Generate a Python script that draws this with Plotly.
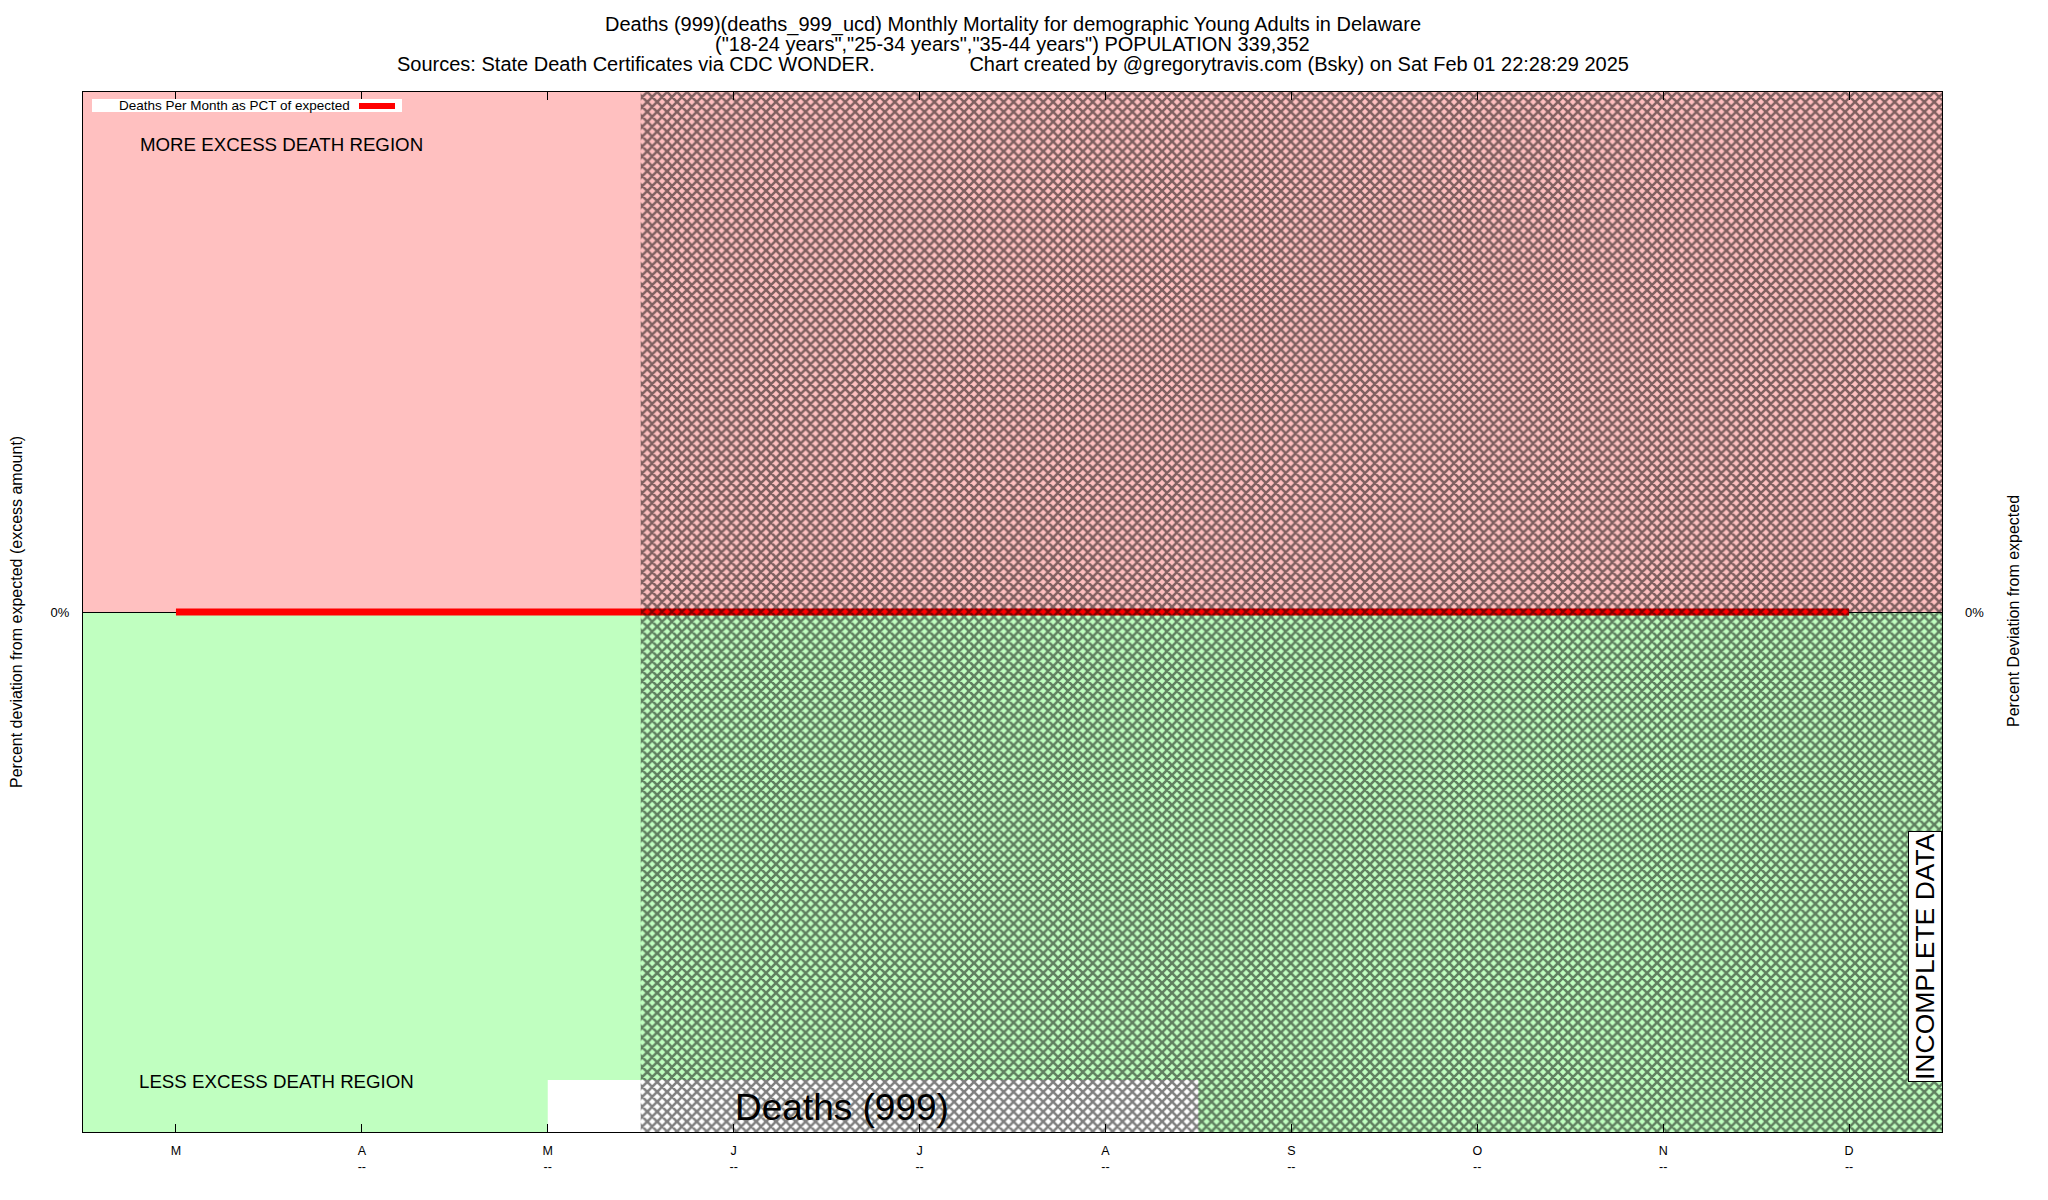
import plotly.graph_objects as go

# ---------------- data ----------------
months = ["M", "A", "M", "J", "J", "A", "S", "O", "N", "D"]
month_sub = ["", "--", "--", "--", "--", "--", "--", "--", "--", "--"]
month_idx = list(range(len(months)))
pct_of_expected = [0, 0, 0, 0, 0, 0, 0, 0, 0, 0]

y_range = [-100, 100]
x_range = [-0.5, 9.5]
incomplete_from = 2.5          # start of hatched (incomplete) region, in month index
label_box_x = [2.0, 5.5]       # bottom label box extent, month index
label_box_top = -90            # bottom label box top, pct

FONT = "Liberation Sans, Arial, Helvetica, sans-serif"

# page offset (default body margin) and plot area in page pixels
OFF = 8
X0, X1, Y0, Y1 = 83, 1942, 92, 1132
W, H = 2048 - 2 * OFF, 1200 - 2 * OFF

def px(x):
    return (x - X0) / (X1 - X0)
def py(y):
    return (Y1 - y) / (Y1 - Y0)

ticktext = [m + ("<br>" + s if s else "") for m, s in zip(months, month_sub)]

fig = go.Figure()

# data line
fig.add_trace(go.Scatter(
    x=month_idx, y=pct_of_expected, mode="lines",
    line=dict(color="#ff0000", width=7),
    name="Deaths Per Month as PCT of expected", showlegend=False,
))

# hatched incomplete region (above the line)
fig.add_trace(go.Scatter(
    x=[incomplete_from, x_range[1], x_range[1], incomplete_from, incomplete_from],
    y=[y_range[0], y_range[0], y_range[1], y_range[1], y_range[0]],
    mode="none", fill="toself", fillcolor="rgba(0,0,0,0)",
    fillpattern=dict(shape="x", fgcolor="#000000", bgcolor="rgba(0,0,0,0)",
                     size=7, solidity=0.6),
    hoverinfo="skip", showlegend=False,
))

shapes = [
    dict(type="rect", xref="x", yref="y", x0=x_range[0], x1=x_range[1], y0=0, y1=y_range[1],
         fillcolor="#ffc0c0", line=dict(width=0), layer="below"),
    dict(type="rect", xref="x", yref="y", x0=x_range[0], x1=x_range[1], y0=y_range[0], y1=0,
         fillcolor="#c0ffc0", line=dict(width=0), layer="below"),
    dict(type="rect", xref="x", yref="y", x0=label_box_x[0], x1=label_box_x[1],
         y0=y_range[0], y1=label_box_top,
         fillcolor="#ffffff", line=dict(width=0), layer="below"),
    # legend box
    dict(type="rect", xref="paper", yref="paper", x0=px(92), x1=px(402), y0=py(112), y1=py(99),
         fillcolor="#ffffff", line=dict(width=0), layer="above"),
    dict(type="line", xref="paper", yref="paper", x0=px(359), x1=px(395), y0=py(106), y1=py(106),
         line=dict(color="#ff0000", width=6), layer="above"),
]

TS = 20
annotations = [
    dict(text="Deaths (999)(deaths_999_ucd) Monthly Mortality for demographic Young Adults in Delaware",
         xref="paper", yref="paper", x=0.5, y=py(24), xanchor="center", yanchor="middle",
         showarrow=False, font=dict(size=TS, color="#000", family=FONT)),
    dict(text="(\"18-24 years\",\"25-34 years\",\"35-44 years\") POPULATION 339,352",
         xref="paper", yref="paper", x=0.5, y=py(44), xanchor="center", yanchor="middle",
         showarrow=False, font=dict(size=TS, color="#000", family=FONT)),
    dict(text="Sources: State Death Certificates via CDC WONDER." + "\u00a0" * 17 +
              "Chart created by @gregorytravis.com (Bsky) on Sat Feb 01 22:28:29 2025",
         xref="paper", yref="paper", x=0.5, y=py(64), xanchor="center", yanchor="middle",
         showarrow=False, font=dict(size=TS, color="#000", family=FONT)),
    dict(text="Deaths Per Month as PCT of expected", xref="paper", yref="paper",
         x=px(352), y=py(106), xanchor="right", yanchor="middle", showarrow=False,
         font=dict(size=13.5, color="#000", family=FONT)),
    dict(text="MORE EXCESS DEATH REGION", xref="paper", yref="paper",
         x=px(138), y=py(144), xanchor="left", yanchor="middle", showarrow=False,
         font=dict(size=18.7, color="#000", family=FONT)),
    dict(text="LESS EXCESS DEATH REGION", xref="paper", yref="paper",
         x=px(137), y=py(1081), xanchor="left", yanchor="middle", showarrow=False,
         font=dict(size=18.7, color="#000", family=FONT)),
    dict(text="Deaths (999)", xref="paper", yref="paper",
         x=px(842), y=py(1107), xanchor="center", yanchor="middle", showarrow=False,
         font=dict(size=37, color="#000", family=FONT)),
    dict(text="INCOMPLETE DATA", xref="paper", yref="paper", textangle=-90,
         x=px(1925), y=py(957), xanchor="center", yanchor="middle", showarrow=False,
         bgcolor="#ffffff", bordercolor="#000000", borderwidth=1, borderpad=1,
         font=dict(size=26.5, color="#000", family=FONT)),
    dict(text="Percent deviation from expected (excess amount)", xref="paper", yref="paper",
         textangle=-90, x=px(16), y=py(612), xanchor="center", yanchor="middle",
         showarrow=False, font=dict(size=16, color="#000", family=FONT)),
    dict(text="Percent Deviation from expected", xref="paper", yref="paper",
         textangle=-90, x=px(2013), y=py(611), xanchor="center", yanchor="middle",
         showarrow=False, font=dict(size=16, color="#000", family=FONT)),
]

fig.update_layout(
    width=W, height=H,
    margin=dict(l=X0 - OFF, r=W + OFF - X1, t=Y0 - OFF, b=H + OFF - Y1, pad=0),
    paper_bgcolor="#ffffff", plot_bgcolor="#ffffff",
    shapes=shapes, annotations=annotations, showlegend=False,
    font=dict(family=FONT, color="#000"),
    xaxis=dict(range=x_range, tickmode="array", tickvals=month_idx, ticktext=ticktext,
               ticks="inside", ticklen=8, tickcolor="#000", tickwidth=1,
               showline=True, linecolor="#000", linewidth=1, mirror="ticks",
               showgrid=False, zeroline=False, ticklabelstandoff=7,
               tickfont=dict(size=12.5, color="#000", family=FONT)),
    yaxis=dict(range=y_range, tickmode="array", tickvals=[0], ticktext=["0%"],
               ticks="inside", ticklen=8, tickcolor="#000",
               showline=True, linecolor="#000", linewidth=1, mirror=True,
               showgrid=False, zeroline=True, zerolinecolor="#000", zerolinewidth=1,
               ticklabelstandoff=10,
               tickfont=dict(size=13, color="#000", family=FONT)),
    yaxis2=dict(range=y_range, overlaying="y", side="right", tickmode="array",
                tickvals=[0], ticktext=["0%"], ticks="", showline=False,
                showgrid=False, zeroline=False, ticklabelstandoff=22,
                tickfont=dict(size=13, color="#000", family=FONT)),
)

fig.add_trace(go.Scatter(x=[x_range[0]], y=[0], yaxis="y2", mode="markers",
                         marker=dict(opacity=0), hoverinfo="skip", showlegend=False))

fig.write_html("out.html")
